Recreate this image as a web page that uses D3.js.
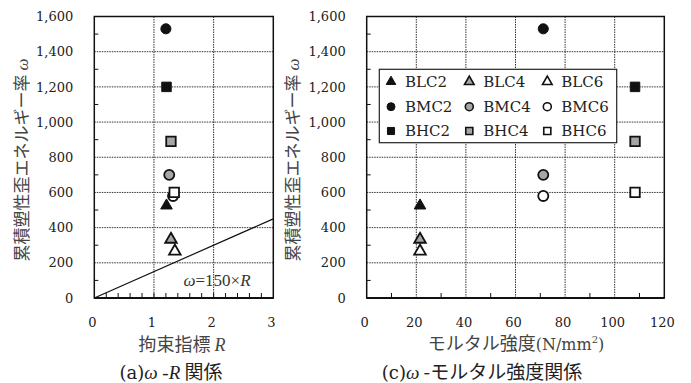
<!DOCTYPE html>
<html>
<head>
<meta charset="utf-8">
<script src="https://cdn.jsdelivr.net/npm/d3@7"></script>
<style>
  body { margin: 0; background: #fff; }
  svg { display: block; }
  .tick-label { font-family: "DejaVu Serif", serif; font-size: 13px; fill: #222; }
  .jp { font-family: "DejaVu Serif", "Noto Sans CJK JP", serif; fill: #444; }
  .grid { stroke: #333; stroke-width: 1; stroke-dasharray: 1.5,1; fill: none; }
  .frame { stroke: #111; stroke-width: 1.5; fill: none; }
</style>
</head>
<body>
<div id="chart"></div>
<script>
// specimen names, grouped by mortar class
var specimens = ['BLC2', 'BLC4', 'BLC6', 'BMC2', 'BMC4', 'BMC6', 'BHC2', 'BHC4', 'BHC6'];
// restraint index R
var restraintR = [1.21, 1.285, 1.35, 1.20, 1.256, 1.32, 1.21, 1.285, 1.34];
// mortar strength (N/mm2)
var mortarStrength = [21.5, 21.5, 21.5, 71.2, 71.2, 71.2, 108.2, 108.2, 108.2];
// cumulative plastic strain energy ratio omega
var omega = [525, 333, 266, 1530, 700, 580, 1200, 890, 600];

var yTicks = [0, 200, 400, 600, 800, 1000, 1200, 1400, 1600];
var xTicksR = [0, 1, 2, 3];
var xTicksM = [0, 20, 40, 60, 80, 100, 120];
var lineCoef = 150;

var width = 691, height = 383;

var shapeOf = { L: d3.symbolTriangle, M: d3.symbolCircle, H: d3.symbolSquare };
var sizeOf = { L: 58, M: 80, H: 90 };
var fillOf = { '2': '#111', '4': '#a6a6a6', '6': '#fff' };

var svg = d3.select('#chart').append('svg')
    .attr('width', width)
    .attr('height', height);

var yScale = d3.scaleLinear().domain([0, 1600]).range([298, 16.5]);
var fmt = d3.format(',');

function drawPanel(opts) {
    var x = opts.x;
    var x0 = x.range()[0], x1 = x.range()[1];
    var y0 = yScale.range()[0], y1 = yScale.range()[1];
    var g = svg.append('g');

    // grid
    g.selectAll('.hgrid').data(yTicks.slice(1, -1)).enter().append('line')
        .attr('class', 'grid')
        .attr('x1', x0).attr('x2', x1)
        .attr('y1', function(d) { return yScale(d); })
        .attr('y2', function(d) { return yScale(d); });
    g.selectAll('.vgrid').data(opts.xTicks.slice(1, -1)).enter().append('line')
        .attr('class', 'grid')
        .attr('y1', y0).attr('y2', y1)
        .attr('x1', function(d) { return x(d); })
        .attr('x2', function(d) { return x(d); });

    // minor ticks pointing inward
    var yMinor = d3.range(100, 1600, 200);
    g.selectAll('.ymin').data(yMinor).enter().append('line')
        .attr('stroke', '#111').attr('stroke-width', 1)
        .attr('x1', x0).attr('x2', x0 + 4)
        .attr('y1', function(d) { return yScale(d); })
        .attr('y2', function(d) { return yScale(d); });
    g.selectAll('.xmin').data(opts.xMinor).enter().append('line')
        .attr('stroke', '#111').attr('stroke-width', 1)
        .attr('y1', y0).attr('y2', y0 - 5)
        .attr('x1', function(d) { return x(d); })
        .attr('x2', function(d) { return x(d); });

    // frame
    g.append('rect').attr('class', 'frame')
        .attr('x', x0).attr('y', y1)
        .attr('width', x1 - x0).attr('height', y0 - y1);
    g.append('line')
        .attr('x1', x0).attr('x2', x1).attr('y1', y0).attr('y2', y0)
        .attr('stroke', '#111').attr('stroke-width', 2);

    // tick labels
    g.selectAll('.ylab').data(yTicks).enter().append('text')
        .attr('class', 'tick-label')
        .attr('x', x0 - 21)
        .attr('y', function(d) { return yScale(d); })
        .attr('dy', '0.36em')
        .attr('text-anchor', 'end')
        .text(function(d) { return fmt(d); });
    g.selectAll('.xlab').data(opts.xTicks).enter().append('text')
        .attr('class', 'tick-label')
        .attr('x', function(d) { return x(d) - 2; })
        .attr('y', 326.5)
        .attr('text-anchor', 'middle')
        .text(function(d) { return d; });

    // y title
    var yt = g.append('text').attr('class', 'jp')
        .attr('transform', 'translate(' + opts.yTitleX + ',' + opts.yTitleY + ') rotate(-90)')
        .attr('text-anchor', 'middle')
        .attr('dy', '0.35em')
        .style('font-size', '17px');
    yt.append('tspan').style('font-family', '"Noto Sans CJK JP"').text('累積塑性歪エネルギー率 ');
    yt.append('tspan').style('font-family', '"Liberation Serif", serif').style('font-style', 'italic').text('ω');

    return g;
}

function drawPoints(g, xs, x) {
    g.selectAll('.pt').data(specimens).enter().append('path')
        .attr('transform', function(d, i) {
            return 'translate(' + x(xs[i]) + ',' + yScale(omega[i]) + ')';
        })
        .attr('d', function(d) {
            return d3.symbol().type(shapeOf[d[1]]).size(sizeOf[d[1]])();
        })
        .attr('fill', function(d) { return fillOf[d[3]]; })
        .attr('stroke', '#111')
        .attr('stroke-width', function(d) { return d[3] === '2' ? 1 : 1.8; });
}

// ---- panel (a) ----
var xR = d3.scaleLinear().domain([0, 3]).range([94.3, 273.3]);
var gA = drawPanel({
    x: xR, xTicks: xTicksR, xMinor: d3.range(0.2, 3, 0.2),
    yTitleX: 22, yTitleY: 160
});
gA.append('line')
    .attr('x1', xR(0)).attr('y1', yScale(0))
    .attr('x2', xR(3)).attr('y2', yScale(lineCoef * 3))
    .attr('stroke', '#111').attr('stroke-width', 1.2);
var eq = gA.append('text')
    .attr('x', 217).attr('y', 286)
    .attr('text-anchor', 'middle')
    .style('font-family', '"Liberation Serif", serif')
    .style('font-size', '17px').style('fill', '#333');
eq.append('tspan').style('font-style', 'italic').text('ω');
eq.append('tspan').text('=' + lineCoef + '×');
eq.append('tspan').style('font-style', 'italic').text('R');
drawPoints(gA, restraintR, xR);

var xtA = gA.append('text').attr('class', 'jp')
    .attr('x', 182).attr('y', 351).attr('text-anchor', 'middle')
    .style('font-size', '18px');
xtA.append('tspan').style('font-family', '"Noto Sans CJK JP"').text('拘束指標 ');
xtA.append('tspan').style('font-family', '"Liberation Serif", serif').style('font-style', 'italic').text('R');

var capA = gA.append('text').attr('class', 'jp')
    .attr('x', 171).attr('y', 379).attr('text-anchor', 'middle')
    .style('font-size', '18px').style('fill', '#222');
capA.append('tspan').style('font-family', '"DejaVu Serif", serif').text('(a)');
capA.append('tspan').style('font-family', '"Liberation Serif", serif').style('font-style', 'italic').style('font-size', '19px').text('ω -R');
capA.append('tspan').style('font-family', '"Noto Sans CJK JP"').style('font-size', '19px').text(' 関係');

// ---- panel (c) ----
var xM = d3.scaleLinear().domain([0, 120]).range([366.7, 664.3]);
var gC = drawPanel({
    x: xM, xTicks: xTicksM, xMinor: d3.range(10, 120, 20),
    yTitleX: 293, yTitleY: 160
});

// legend
var legend = gC.append('g');
legend.append('rect')
    .attr('x', 379.3).attr('y', 69.3)
    .attr('width', 237.4).attr('height', 73.4)
    .attr('fill', '#fff').attr('stroke', '#222').attr('stroke-width', 1.2);
var colX = [391, 469.3, 547.3];
var rowY = [81.7, 106.7, 131];
var legendSize = { L: 40, M: 50, H: 50 };
specimens.forEach(function(s, i) {
    var col = i % 3, row = Math.floor(i / 3);
    legend.append('path')
        .attr('transform', 'translate(' + colX[col] + ',' + rowY[row] + ')')
        .attr('d', d3.symbol().type(shapeOf[s[1]]).size(legendSize[s[1]])())
        .attr('fill', fillOf[s[3]])
        .attr('stroke', '#111')
        .attr('stroke-width', s[3] === '2' ? 1 : 1.6);
    legend.append('text')
        .attr('x', colX[col] + 14).attr('y', rowY[row])
        .attr('dy', '0.36em')
        .style('font-family', '"DejaVu Serif", serif')
        .style('font-size', '15px').style('fill', '#222')
        .text(s);
});

drawPoints(gC, mortarStrength, xM);

var xtC = gC.append('text').attr('class', 'jp')
    .attr('x', 516).attr('y', 350).attr('text-anchor', 'middle')
    .style('font-size', '18px');
xtC.append('tspan').style('font-family', '"Noto Sans CJK JP"').text('モルタル強度');
xtC.append('tspan').style('font-family', '"DejaVu Serif", serif').style('font-size', '16px').text('(N/mm');
xtC.append('tspan').style('font-family', '"DejaVu Serif", serif').style('font-size', '10px').attr('dy', -7).text('2');
xtC.append('tspan').style('font-family', '"DejaVu Serif", serif').style('font-size', '16px').attr('dy', 7).text(')');

var capC = gC.append('text').attr('class', 'jp')
    .attr('x', 482).attr('y', 379).attr('text-anchor', 'middle')
    .style('font-size', '18px').style('fill', '#222');
capC.append('tspan').style('font-family', '"DejaVu Serif", serif').text('(c)');
capC.append('tspan').style('font-family', '"Liberation Serif", serif').style('font-style', 'italic').style('font-size', '19px').text('ω');
capC.append('tspan').style('font-family', '"Noto Sans CJK JP"').style('font-size', '19px').text(' -モルタル強度関係');
</script>
</body>
</html>
